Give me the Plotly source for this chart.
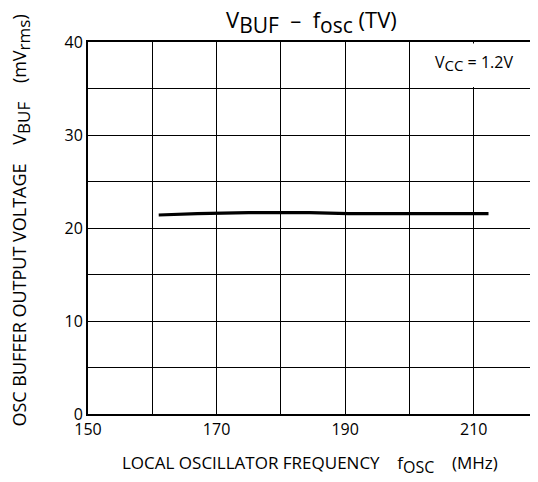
import plotly.graph_objects as go

# data
freq_mhz = [161, 167, 175, 184.5, 190.5, 200, 212.3]
vbuf_mv = [21.4, 21.55, 21.65, 21.65, 21.55, 21.55, 21.55]

x_tickvals = [150, 160, 170, 180, 190, 200, 210, 220]
x_ticktext = ["150", "", "170", "", "190", "", "210", ""]
y_tickvals = [0, 5, 10, 15, 20, 25, 30, 35, 40]
y_ticktext = ["0", "", "10", "", "20", "", "30", "", "40"]

FONT = "Open Sans, Noto Sans, sans-serif"


def sub(t, size):
    return f"<sub><span style='font-size:{size}px'>{t}</span></sub>"


fig = go.Figure()
fig.add_trace(go.Scatter(x=freq_mhz, y=vbuf_mv, mode="lines",
                         line=dict(color="#000000", width=3.2),
                         showlegend=False, hoverinfo="skip"))

fig.add_shape(type="rect", x0=200.25, x1=219.9, y0=35.15, y1=39.85,
              xref="x", yref="y", fillcolor="white", line=dict(width=0), layer="above")

fig.add_annotation(x=210.0, y=37.75, xref="x", yref="y",
                   text="V" + sub("CC", 15) + " = 1.2V", showarrow=False,
                   font=dict(family=FONT, size=16, color="#000"))

# title
fig.add_annotation(x=0.496, y=1.055, xref="paper", yref="paper",
                   text="V" + sub("BUF", 21) + "  –  f" + sub("osc", 21) + " (TV)",
                   showarrow=False, xanchor="center", yanchor="middle",
                   font=dict(family=FONT, size=22, color="#000"))

# x axis title
fig.add_annotation(x=0.493, y=-0.137, xref="paper", yref="paper",
                   text="LOCAL OSCILLATOR FREQUENCY    f" + sub("OSC", 16) + "    (MHz)",
                   showarrow=False, xanchor="center", yanchor="middle",
                   font=dict(family=FONT, size=17, color="#000"))

# y axis title
fig.add_annotation(x=-0.149, y=0.52, xref="paper", yref="paper",
                   text="OSC BUFFER OUTPUT VOLTAGE    V" + sub("BUF", 17) + "    (mV" + sub("rms", 17) + ")",
                   showarrow=False, xanchor="center", yanchor="middle", textangle=-90,
                   font=dict(family=FONT, size=18, color="#000"))

fig.update_layout(
    width=530, height=474,
    margin=dict(l=80, r=0, t=34, b=68, autoexpand=False),
    paper_bgcolor="white", plot_bgcolor="white",
    font=dict(family=FONT, color="#000"),
    xaxis=dict(range=[150, 220], tickvals=x_tickvals, ticktext=x_ticktext,
               showgrid=True, gridcolor="#000", gridwidth=1,
               showline=True, linecolor="#000", linewidth=2, mirror=True,
               ticks="", tickfont=dict(size=16, family=FONT), zeroline=False,
               automargin=False),
    yaxis=dict(range=[0, 40], tickvals=y_tickvals, ticktext=y_ticktext,
               showgrid=True, gridcolor="#000", gridwidth=1,
               showline=True, linecolor="#000", linewidth=2,
               ticks="", tickfont=dict(size=16, family=FONT), zeroline=False,
               automargin=False),
)

fig.write_html("out.html")
